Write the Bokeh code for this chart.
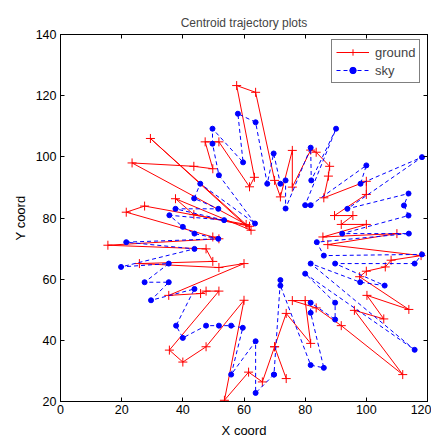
from bokeh.plotting import figure
from bokeh.models import LinearAxis, Legend, LegendItem, FixedTicker, Range1d
from bokeh.embed import file_html
from bokeh.resources import INLINE

# ground centroid trajectory (x, y)
ground_x = [73.8, 70.0, 66.0, 61.5, 53.6, 60.0, 47.6, 40.0, 35.6, 51.8, 47.6, 45.8, 35.4, 60.0, 51.8,
            25.8, 49.8, 47.6, 15.5, 51.8, 49.8, 21.5, 27.5, 60.7, 29.4, 62.3, 37.6, 43.6, 61.8, 23.4,
            43.6, 49.8, 47.3, 51.8, 61.8, 63.4, 57.6, 63.8, 70.0, 71.9, 75.8, 75.8, 81.8, 83.6, 88.0,
            87.6, 86.1, 100.0, 100.0, 89.6, 95.6, 91.8, 100.0, 85.8, 110.0, 87.4, 117.9, 108.1, 106.2,
            100.0, 97.8, 113.9, 100.2, 105.7, 96.1, 111.9, 91.8, 83.6, 75.8, 80.0, 81.8, 73.8, 70.0]
ground_y = [27.5, 37.9, 26.4, 29.6, 20.4, 53.1, 37.9, 32.9, 36.8, 56.1, 56.1, 55.3, 54.7, 65.1, 63.8,
            65.1, 65.8, 69.9, 71.1, 73.2, 73.8, 81.9, 83.9, 77.9, 106.0, 76.0, 86.3, 81.1, 77.3, 98.0,
            96.9, 96.1, 104.9, 104.9, 90.2, 93.3, 123.3, 121.1, 92.3, 86.9, 102.1, 90.1, 102.2, 101.5, 96.9,
            93.7, 86.6, 92.0, 87.7, 80.8, 80.8, 77.9, 77.9, 73.8, 74.9, 71.3, 67.7, 66.2, 64.0,
            62.6, 60.8, 50.1, 54.7, 47.0, 49.8, 28.8, 44.8, 50.6, 53.0, 53.0, 39.0, 48.8, 37.9]

# sky centroid trajectory (x, y)
sky_x = [69.8, 63.8, 63.8, 55.8, 59.6, 55.8, 51.8, 47.6, 40.0, 37.8, 43.8, 29.6, 35.4, 27.5, 35.4,
         19.8, 43.8, 21.5, 51.6, 43.8, 40.0, 35.6, 53.5, 37.6, 51.6, 43.7, 45.7, 63.6, 51.8, 49.7,
         49.7, 59.7, 58.0, 63.8, 67.6, 69.7, 71.9, 73.6, 73.6, 81.8, 82.0, 90.1, 80.0, 81.8, 100.0,
         98.1, 118.2, 93.8, 113.8, 112.3, 113.8, 92.1, 113.9, 83.8, 86.1, 118.2, 115.8, 89.8, 106.0,
         98.0, 81.8, 115.8, 80.0, 89.8, 89.8, 81.8, 81.8, 86.1, 81.8, 71.9, 71.9, 69.8]
sky_y = [28.8, 22.8, 39.7, 28.8, 44.1, 44.8, 44.8, 44.8, 40.8, 44.8, 56.8, 53.1, 59.0, 59.0, 65.1,
         64.0, 69.9, 72.1, 73.2, 74.9, 77.1, 80.9, 79.3, 83.0, 83.0, 86.4, 91.2, 78.2, 94.0, 104.3,
         109.2, 98.2, 114.1, 111.3, 91.2, 101.1, 91.2, 92.3, 83.1, 103.0, 92.3, 109.2, 84.2, 84.2, 97.2,
         91.2, 99.9, 83.0, 88.0, 84.1, 80.8, 74.9, 74.9, 72.1, 67.7, 68.1, 65.1, 65.1, 57.9,
         59.0, 65.1, 36.9, 61.8, 52.3, 46.8, 52.3, 49.0, 31.0, 31.9, 57.9, 59.7, 28.8]

x_ticks = [0, 20, 40, 60, 80, 100, 120]
y_ticks = [20, 40, 60, 80, 100, 120, 140]

FONT = "Liberation Sans"

p = figure(frame_width=367, frame_height=367,
           x_range=Range1d(0, 120), y_range=Range1d(20, 140),
           output_backend="svg", toolbar_location=None,
           min_border_left=60, min_border_top=34, min_border_right=4, min_border_bottom=30,
           title="Centroid trajectory plots")
p.title.align = "center"
p.title.text_font = FONT
p.title.text_font_size = "12px"
p.title.text_font_style = "normal"
p.xgrid.visible = False
p.ygrid.visible = False
p.outline_line_color = "black"
p.background_fill_color = "white"
p.border_fill_color = "white"

x_axis = p.below[0]
y_axis = p.left[0]
x_axis.ticker = FixedTicker(ticks=x_ticks)
y_axis.ticker = FixedTicker(ticks=y_ticks)
x_axis.axis_label = "X coord"
y_axis.axis_label = "Y coord"

top_axis = LinearAxis(ticker=FixedTicker(ticks=x_ticks),
                      major_label_overrides={t: "" for t in x_ticks})
right_axis = LinearAxis(ticker=FixedTicker(ticks=y_ticks),
                        major_label_overrides={t: "" for t in y_ticks})
p.add_layout(top_axis, "above")
p.add_layout(right_axis, "right")

for ax in [x_axis, y_axis, top_axis, right_axis]:
    ax.axis_line_color = "black"
    ax.major_tick_line_color = "black"
    ax.major_tick_in = 4
    ax.major_tick_out = 0
    ax.minor_tick_line_color = None
    ax.major_label_text_font = FONT
    ax.major_label_text_font_size = "12.5px"
    ax.major_label_text_color = "black"
    ax.axis_label_text_font = FONT
    ax.axis_label_text_font_size = "13px"
    ax.axis_label_text_font_style = "normal"
    ax.axis_label_text_color = "black"
    ax.major_label_standoff = 4
    ax.axis_label_standoff = 5
x_axis.major_label_standoff = 3
x_axis.axis_label_standoff = 6

g_line = p.line(ground_x, ground_y, line_color="red", line_width=1)
g_pts = p.scatter(ground_x, ground_y, marker="cross", size=9, line_color="red", line_width=1)
s_line = p.line(sky_x, sky_y, line_color="blue", line_width=1, line_dash="4 3")
s_pts = p.scatter(sky_x, sky_y, marker="circle", size=5, fill_color="blue", line_color="blue")

legend = Legend(items=[LegendItem(label="ground", renderers=[g_line, g_pts]),
                       LegendItem(label="sky", renderers=[s_line, s_pts])],
                location=(271, 318), margin=0, padding=4, spacing=2,
                glyph_width=33, glyph_height=16, label_height=16, label_standoff=6,
                label_text_font=FONT, label_text_font_size="13px",
                border_line_color="black", border_line_width=1,
                background_fill_alpha=1)
p.add_layout(legend, "center")

html = file_html(p, INLINE)
open("out.html", "w").write(html)
